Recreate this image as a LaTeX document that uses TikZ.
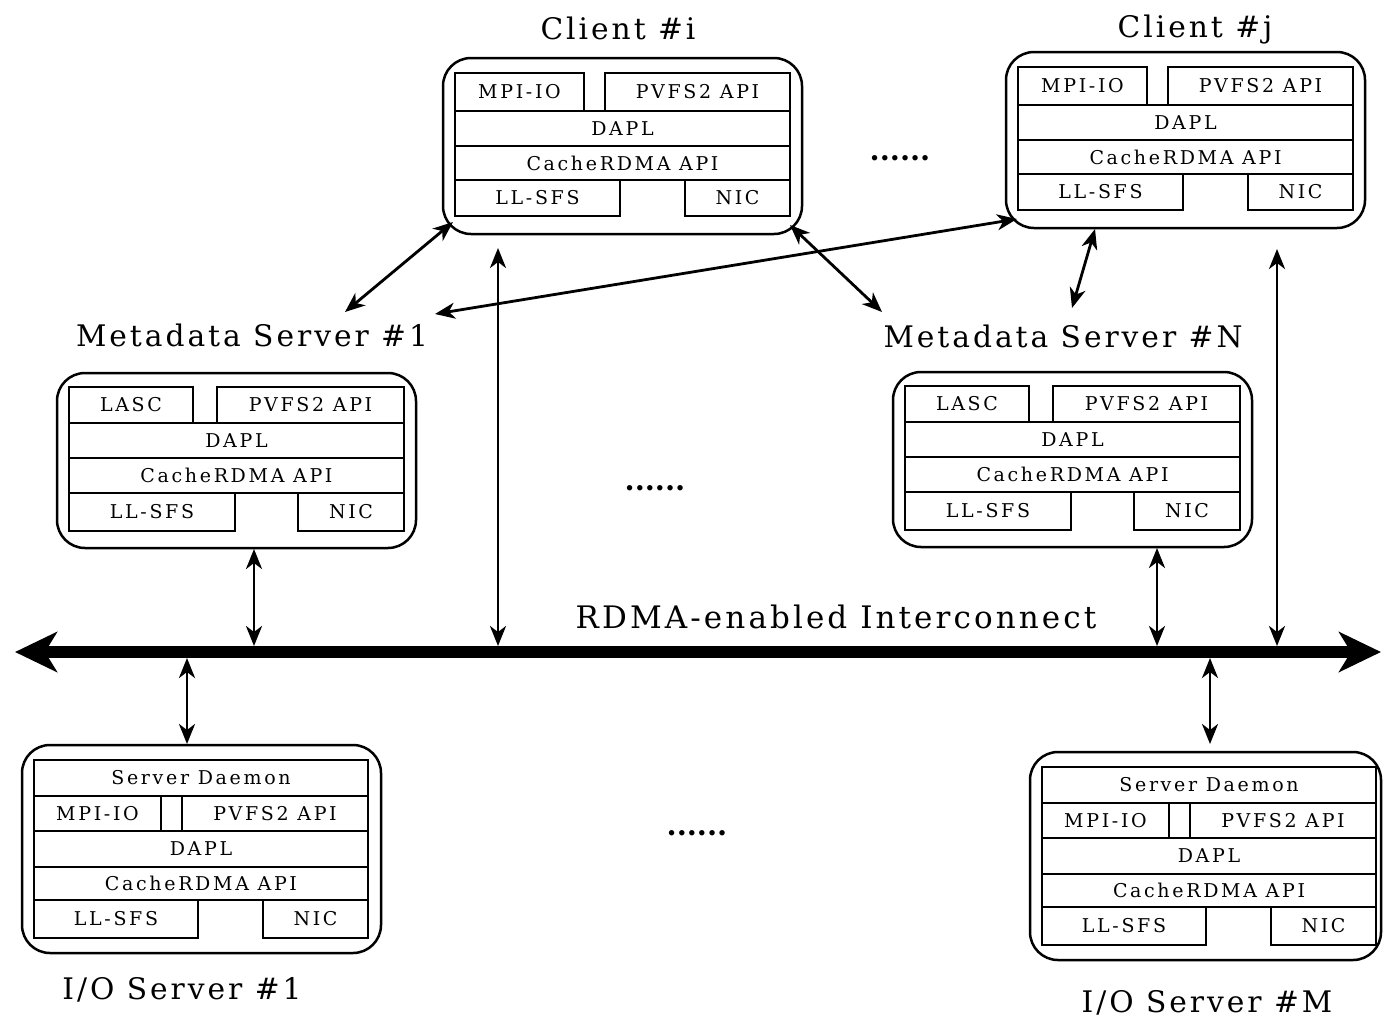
\documentclass[tikz,border=0pt]{standalone}
\usepackage{fontspec}
\setmainfont{DejaVu Serif}
\newfontfamily\layerfont[LetterSpace=14]{DejaVu Serif}
\newfontfamily\titlefont[LetterSpace=10]{DejaVu Serif}
\usetikzlibrary{arrows.meta,calc}

\begin{document}
\begin{tikzpicture}[x=1bp, y=-1bp,
    >={Stealth[length=20bp, width=16bp, inset=6bp]},
    layer/.style={draw, line width=2.2bp, inner sep=0pt, outer sep=0pt,
      anchor=north west, font=\layerfont\fontsize{19bp}{19bp}\selectfont},
    stackbox/.style={draw, line width=2.5bp, rounded corners=28bp,
      inner sep=0pt, outer sep=0pt, anchor=north west},
    title/.style={font=\titlefont\fontsize{29.7bp}{30bp}\selectfont, inner sep=0pt},
    dots/.style={font=\bfseries\fontsize{29bp}{29bp}\selectfont, inner sep=0pt},
    link/.style={<->, line width=2.8bp}]
  \useasboundingbox (0,0) rectangle (1383,1019);

  % Clients
  \foreach \n/\x/\y/\tx/\ty/\name in {ci/443/58/618/28/i, cj/1006/52/1195/30/j} {
    \node[stackbox, minimum width=359bp, minimum height=176bp] (\n) at (\x,\y) {};
    \node[title] (\n-title) at (\tx,\ty) {Client \#\name};
    \node[layer, minimum width=129bp, minimum height=38bp] (\n-mpi) at (\x+12,\y+15) {MPI-IO};
    \node[layer, minimum width=185bp, minimum height=38bp] (\n-pvfs) at (\x+162,\y+15) {PVFS2 API};
    \node[layer, minimum width=335bp, minimum height=35bp] (\n-dapl) at (\x+12,\y+53) {DAPL};
    \node[layer, minimum width=335bp, minimum height=34bp] (\n-rdma) at (\x+12,\y+88) {CacheRDMA API};
    \node[layer, minimum width=165bp, minimum height=36bp] (\n-llsfs) at (\x+12,\y+122) {LL-SFS};
    \node[layer, minimum width=105bp, minimum height=36bp] (\n-nic) at (\x+242,\y+122) {NIC};
  }

  % Metadata servers
  \foreach \n/\x/\y/\tx/\ty/\name in {md1/57/373/252/335/1, mdN/893/372/1063/336/N} {
    \node[stackbox, minimum width=359bp, minimum height=175bp] (\n) at (\x,\y) {};
    \node[title] (\n-title) at (\tx,\ty) {Metadata Server \#\name};
    \node[layer, minimum width=124bp, minimum height=36bp] (\n-lasc) at (\x+12,\y+14) {LASC};
    \node[layer, minimum width=187bp, minimum height=36bp] (\n-pvfs) at (\x+160,\y+14) {PVFS2 API};
    \node[layer, minimum width=335bp, minimum height=35bp] (\n-dapl) at (\x+12,\y+50) {DAPL};
    \node[layer, minimum width=335bp, minimum height=35bp] (\n-rdma) at (\x+12,\y+85) {CacheRDMA API};
    \node[layer, minimum width=166bp, minimum height=38bp] (\n-llsfs) at (\x+12,\y+120) {LL-SFS};
    \node[layer, minimum width=106bp, minimum height=38bp] (\n-nic) at (\x+241,\y+120) {NIC};
  }

  % I/O servers
  \foreach \n/\x/\y/\w/\tx/\ty/\name in {io1/22/745/359/182/990/1, ioM/1030/752/351/1207/1003/M} {
    \node[stackbox, minimum width=\w bp, minimum height=208bp] (\n) at (\x,\y) {};
    \node[title] (\n-title) at (\tx,\ty) {I/O Server \#\name};
    \node[layer, minimum width=334bp, minimum height=36bp] (\n-daemon) at (\x+12,\y+15) {Server Daemon};
    \node[layer, minimum width=127bp, minimum height=35bp] (\n-mpi) at (\x+12,\y+51) {MPI-IO};
    \node[layer, minimum width=186bp, minimum height=35bp] (\n-pvfs) at (\x+160,\y+51) {PVFS2 API};
    \node[layer, minimum width=334bp, minimum height=36bp] (\n-dapl) at (\x+12,\y+86) {DAPL};
    \node[layer, minimum width=334bp, minimum height=33bp] (\n-rdma) at (\x+12,\y+122) {CacheRDMA API};
    \node[layer, minimum width=164bp, minimum height=38bp] (\n-llsfs) at (\x+12,\y+155) {LL-SFS};
    \node[layer, minimum width=105bp, minimum height=38bp] (\n-nic) at (\x+241,\y+155) {NIC};
  }

  % Dots between the columns
  \node[dots] (more-clients) at (900,158) {......};
  \node[dots] (more-mds) at (655,488) {......};
  \node[dots] (more-ios) at (697,833) {......};

  % Interconnect
  \coordinate (bus-w) at (15,652);
  \coordinate (bus-e) at (1381,652);
  \draw[line width=12bp, {Stealth[length=42bp, width=40bp, inset=12bp]}-{Stealth[length=42bp, width=40bp, inset=12bp]}]
    (bus-w) -- (bus-e);
  \node[title, font=\titlefont\fontsize{31bp}{31bp}\selectfont] (bus-label) at (836,617) {RDMA-enabled Interconnect};

  % Clients to metadata servers
  \draw[link] ($(ci.south west)+(10,-12)$) -- ($(md1.north west)+(288,-61)$);
  \draw[link] ($(cj.south west)+(11,-9)$) -- ($(md1.north west)+(378,-59)$);
  \draw[link] ($(ci.south east)+(-12,-9)$) -- ($(mdN.north west)+(-11,-60)$);
  \draw[link] ($(cj.south west)+(89,1)$) -- ($(mdN.north west)+(179,-64)$);

  % Taps onto the interconnect
  \draw[link, shorten >=6bp] ($(ci.south west)+(55,14)$) coordinate (ci-tap) -- (ci-tap |- bus-w);
  \draw[link, shorten >=6bp] ($(cj.south west)+(271,21)$) coordinate (cj-tap) -- (cj-tap |- bus-w);
  \draw[link, shorten >=6bp] ($(md1.south west)+(197,1)$) coordinate (md1-tap) -- (md1-tap |- bus-w);
  \draw[link, shorten >=6bp] ($(mdN.south west)+(264,1)$) coordinate (mdN-tap) -- (mdN-tap |- bus-w);
  \draw[link, shorten >=6bp] ($(io1.north west)+(165,-1)$) coordinate (io1-tap) -- (io1-tap |- bus-w);
  \draw[link, shorten >=6bp] ($(ioM.north west)+(180,-8)$) coordinate (ioM-tap) -- (ioM-tap |- bus-w);
\end{tikzpicture}
\end{document}
